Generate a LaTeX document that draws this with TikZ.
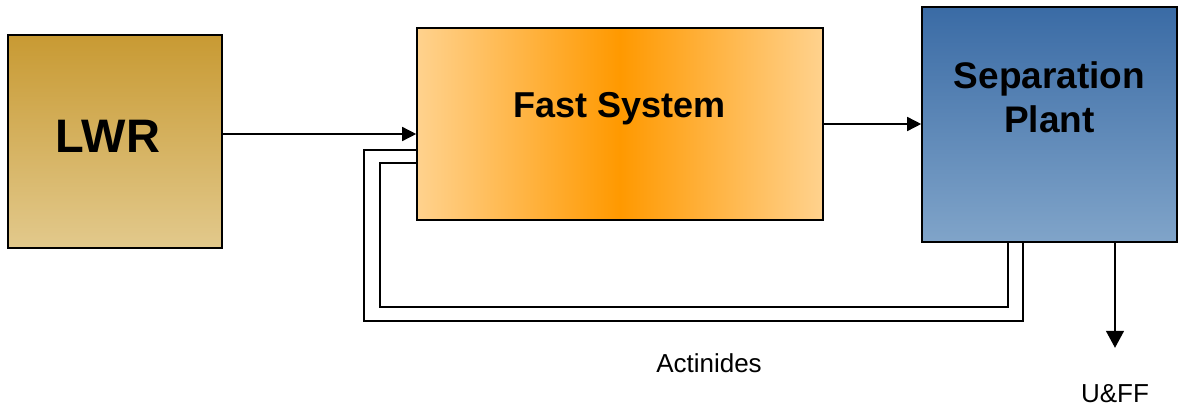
\documentclass[tikz,border=0pt]{standalone}
\usepackage{fontspec}
\setmainfont{Liberation Sans}
\setsansfont{Liberation Sans}
\usepackage{xcolor}
\usepackage{tikz}
\usetikzlibrary{
  arrows.meta,
  calc,
  positioning
}
\definecolor{lwrtop}{HTML}{C89A33}
\definecolor{lwrbot}{HTML}{E2C98C}
\definecolor{fastedge}{HTML}{FFD28E}
\definecolor{fastmid}{HTML}{FF9900}
\definecolor{septop}{HTML}{3A6BA5}
\definecolor{sepbot}{HTML}{80A4C9}
\definecolor{ink}{HTML}{000000}
\tikzset{
  every node/.style={font=\sffamily, text=ink},
  unitbox/.style={
    draw=ink,
    line width=1.6pt,
    inner sep=0pt
  },
  lwrbox/.style={unitbox, top color=lwrtop, bottom color=lwrbot,
    minimum width=214pt, minimum height=213pt},
  fastbox/.style={unitbox, left color=fastedge, right color=fastedge, middle color=fastmid,
    minimum width=406pt, minimum height=192pt},
  sepbox/.style={unitbox, top color=septop, bottom color=sepbot,
    minimum width=255pt, minimum height=235pt},
  boxtitle/.style={font=\sffamily\bfseries\fontsize{36}{44}\selectfont, align=center, inner sep=0pt},
  flowlabel/.style={font=\sffamily\fontsize{26}{30}\selectfont, inner sep=0pt},
  arr/.style={-{Triangle[length=14pt,width=14pt]}, line width=1.5pt, draw=ink},
  arrout/.style={-{Triangle[length=17pt,width=18pt]}, line width=1.5pt, draw=ink},
  recycle/.style={line width=1.8pt, draw=ink},
}

\begin{document}
\begin{tikzpicture}[x=1pt, y=1pt]

  \useasboundingbox (0,0) rectangle (1179,408);

  % =====================================================================
  % Units
  % =====================================================================
  \node[lwrbox]  (lwr)  at (115, 266.5) {};
  \node[fastbox] (fast) at (620, 284) {};
  \node[sepbox]  (sep)  at (1049.5, 283.5) {};

  \node[boxtitle, font=\sffamily\bfseries\fontsize{47}{50}\selectfont]
    (lwrText) at ([xshift=-7pt,yshift=5.5pt]lwr.center) {LWR};
  \node[boxtitle] (fastText) at ([yshift=15pt]fast.center) {Fast System};
  \node[boxtitle, font=\sffamily\bfseries\fontsize{37}{44}\selectfont]
    (sepText) at ([yshift=27pt]sep.center) {Separation\\Plant};

  % =====================================================================
  % Forward flow
  % =====================================================================
  \draw[arr] ([yshift=7.5pt]lwr.east) -- ([yshift=-10pt]fast.west);
  \draw[arr] (fast.east) -- (fast.east -| sep.west);

  % Recycle loop back to the fast system (double line, no heads)
  \draw[recycle]
    ([xshift=-26.5pt]sep.south) -- ++(0,-78)
      -| ([xshift=-52pt,yshift=-26pt]fast.west)
      -- ([yshift=-26pt]fast.west);
  \draw[recycle]
    ([xshift=-41.5pt]sep.south) -- ++(0,-64)
      -| ([xshift=-36pt,yshift=-39pt]fast.west)
      -- ([yshift=-39pt]fast.west);

  \node[flowlabel] (actin) at (709, 45) {Actinides};

  % Output stream
  \coordinate (uffEnd) at ([xshift=65.5pt,yshift=-105pt]sep.south);
  \draw[arrout] ([xshift=65.5pt]sep.south) -- (uffEnd);
  \node[flowlabel] (uff) at (1115, 14) {U\&FF};

\end{tikzpicture}
\end{document}
